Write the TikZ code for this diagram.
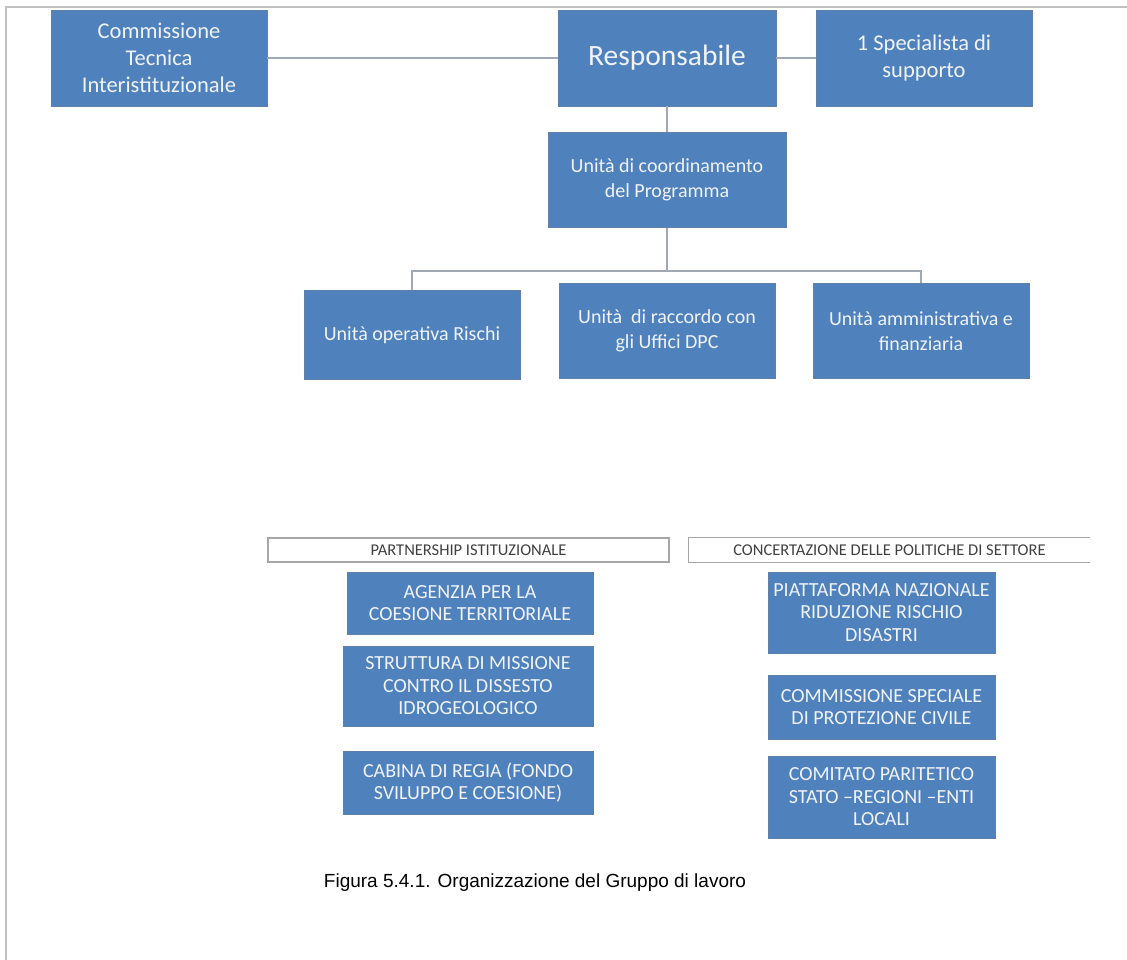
\documentclass[tikz,border=0pt]{standalone}
\usepackage{fontspec}
\setmainfont{Carlito}
\newfontfamily\captionfont{Liberation Sans}
\usepackage{xcolor}
\usetikzlibrary{positioning,calc}

\definecolor{boxblue}{RGB}{79,129,189}
\definecolor{boxedge}{RGB}{96,128,170}
\definecolor{boxtext}{RGB}{240,243,248}
\definecolor{linkgray}{RGB}{160,168,182}
\definecolor{framegray}{RGB}{192,192,192}
\definecolor{hdredge}{RGB}{166,166,166}
\definecolor{hdrtext}{RGB}{64,64,64}

\tikzset{
  unitbox/.style={draw=boxedge, line width=0.8pt, fill=boxblue, text=boxtext,
    align=center, inner sep=2pt},
  topbox/.style={unitbox, minimum width=216pt, minimum height=96pt,
    font=\fontsize{22.5}{27}\selectfont},
  midbox/.style={unitbox, minimum width=216pt, minimum height=95pt,
    font=\fontsize{20}{25.5}\selectfont},
  capsbox/.style={unitbox, font=\fontsize{20}{22.5}\selectfont},
  hdrbox/.style={minimum height=24pt, text=hdrtext, inner sep=0pt,
    font=\fontsize{16.5}{19}\selectfont},
  link/.style={draw=linkgray, line width=1.3pt}
}

\begin{document}
\begin{tikzpicture}[x=1pt,y=-1pt]
    \useasboundingbox (0,0) rectangle (1127,960);
    \draw[framegray, line width=2pt] (6,960) -- (6,7) -- (1127,7);

    % Top row
    \node[topbox] (comm) at (159,58) {Commissione\\Tecnica\\Interistituzionale};
    \node[topbox, minimum width=218pt, font=\fontsize{29.5}{34}\selectfont] (resp) at (667,58) {Responsabile};
    \node[topbox] (spec) at (924,58) {1 Specialista di\\supporto};

    % Coordination and units
    \node[midbox, minimum width=238pt] (coord) at (667,180) {Unità di coordinamento\\del Programma};
    \node[midbox, minimum height=89pt] (oper) at (412,335) {Unità operativa Rischi};
    \node[midbox] (racc) at (667,331) {Unità\ \ di raccordo con\\gli Uffici DPC};
    \node[midbox] (amm) at (921,331) {Unità amministrativa e\\finanziaria};

    % Connectors
    \draw[link] (comm.east) -- (resp.west);
    \draw[link] (resp.east) -- (spec.west);
    \draw[link] (resp.south) -- (coord.north);
    \coordinate (fork) at (667,271);
    \draw[link] (coord.south) -- (fork) -| (oper.north);
    \draw[link] (fork) -| (amm.north);

    % Partnership column
    \node[hdrbox, draw=hdredge, line width=1.2pt, minimum width=401pt] (hdrL) at (468.5,550) {PARTNERSHIP ISTITUZIONALE};
    \node[capsbox, minimum width=246pt, minimum height=62pt] (agenzia) at (470,603) {AGENZIA PER LA\\COESIONE TERRITORIALE};
    \node[capsbox, minimum width=250pt, minimum height=80pt] (struttura) at (468,686) {STRUTTURA DI MISSIONE\\CONTRO IL DISSESTO\\IDROGEOLOGICO};
    \node[capsbox, minimum width=250pt, minimum height=63pt] (cabina) at (468,782.5) {CABINA DI REGIA (FONDO\\SVILUPPO E COESIONE)};

    % Concertazione column
    \node[hdrbox, minimum width=401pt] (hdrR) at (889.5,550) {CONCERTAZIONE DELLE POLITICHE DI SETTORE};
    \draw[hdredge, line width=1.2pt] (hdrR.north east) -- (hdrR.north west) -- (hdrR.south west) -- (hdrR.south east);
    \node[capsbox, minimum width=227pt, minimum height=81pt] (piatt) at (881.5,612.5) {PIATTAFORMA NAZIONALE\\RIDUZIONE RISCHIO\\DISASTRI};
    \node[capsbox, minimum width=227pt, minimum height=64pt] (commsp) at (881.5,707) {COMMISSIONE SPECIALE\\DI PROTEZIONE CIVILE};
    \node[capsbox, minimum width=227pt, minimum height=82pt] (comitato) at (881.5,797) {COMITATO PARITETICO\\STATO --REGIONI --ENTI\\LOCALI};

    % Caption
    \node[font=\captionfont\fontsize{19}{22}\selectfont] (caption) at (535,883) {Figura 5.4.1. Organizzazione del Gruppo di lavoro};
\end{tikzpicture}
\end{document}
